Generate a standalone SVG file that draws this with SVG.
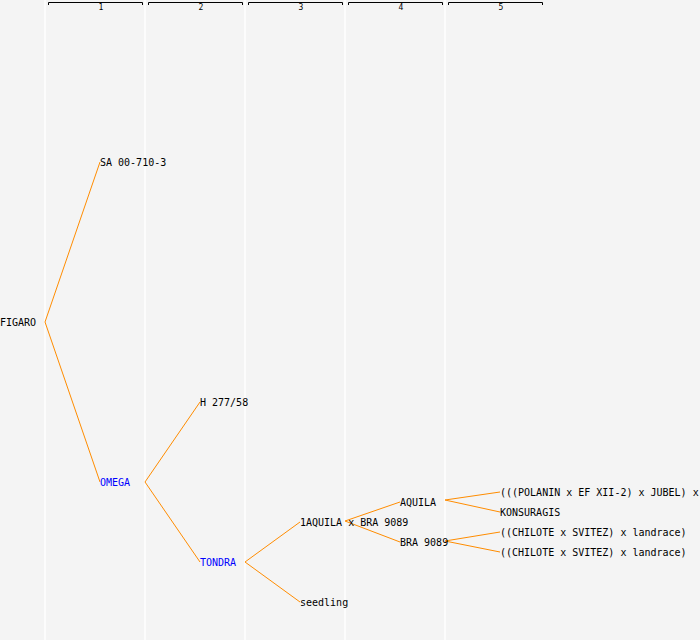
<svg xmlns="http://www.w3.org/2000/svg" width="700" height="640" viewBox="0 0 700 640">
<style>
text{font-family:"DejaVu Sans Mono","Liberation Mono",monospace;font-size:10px;fill:#000}
.hd{font-size:8px;text-anchor:middle}
.blue{fill:#0000ff}
.col{stroke:#ffffff;stroke-width:1.5}
.br{stroke:#000;stroke-width:1;fill:none}
.edge{stroke:#ff8c00;stroke-width:1;fill:none}
</style>
<rect width="700" height="640" fill="#f4f4f4"/>
<g id="grid">
<line class="col" x1="45" y1="0" x2="45" y2="640"/>
<line class="col" x1="145" y1="0" x2="145" y2="640"/>
<line class="col" x1="245" y1="0" x2="245" y2="640"/>
<line class="col" x1="345" y1="0" x2="345" y2="640"/>
<line class="col" x1="445" y1="0" x2="445" y2="640"/>
<path class="br" d="M48.5,5V2.5H142.5V5M148.5,5V2.5H242.5V5M248.5,5V2.5H342.5V5M348.5,5V2.5H442.5V5M448.5,5V2.5H542.5V5"/>
<text class="hd" x="101" y="10">1</text>
<text class="hd" x="201" y="10">2</text>
<text class="hd" x="301" y="10">3</text>
<text class="hd" x="401" y="10">4</text>
<text class="hd" x="501" y="10">5</text>
</g>
<g id="connectors">
<path class="edge" d="M100,162L45,322L100,482"/>
<path class="edge" d="M200,402L145,482L200,562"/>
<path class="edge" d="M300,522L245,562L300,602"/>
<path class="edge" d="M400,502L345,521L400,542"/>
<path class="edge" d="M500,492L445,500L500,512"/>
<path class="edge" d="M500,532L445,541L500,552"/>
</g>
<g id="n-figaro"><text x="0" y="326">FIGARO</text></g>
<g id="n-sa"><text x="100" y="166">SA 00-710-3</text></g>
<g id="n-omega"><text class="blue" x="100" y="486">OMEGA</text></g>
<g id="n-h277"><text x="200" y="406">H 277/58</text></g>
<g id="n-tondra"><text class="blue" x="200" y="566">TONDRA</text></g>
<g id="n-1aquila"><text x="300" y="526">1AQUILA x BRA 9089</text></g>
<g id="n-seedling"><text x="300" y="606">seedling</text></g>
<g id="n-aquila"><text x="400" y="506">AQUILA</text></g>
<g id="n-bra"><text x="400" y="546">BRA 9089</text></g>
<g id="n-polanin"><text x="500" y="496">(((POLANIN x EF XII-2) x JUBEL) x</text></g>
<g id="n-konsuragis"><text x="500" y="516">KONSURAGIS</text></g>
<g id="n-chilote1"><text x="500" y="536">((CHILOTE x SVITEZ) x landrace)</text></g>
<g id="n-chilote2"><text x="500" y="556">((CHILOTE x SVITEZ) x landrace)</text></g>
</svg>
